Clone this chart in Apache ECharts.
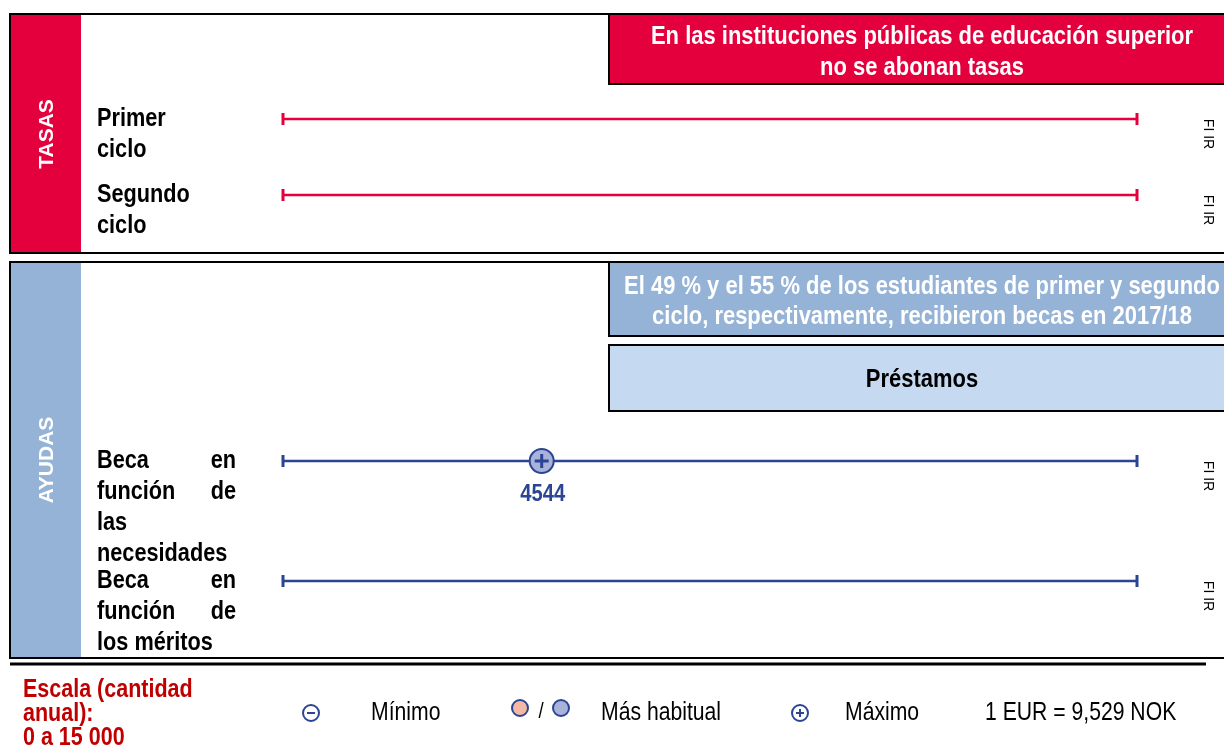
<!DOCTYPE html>
<html>
<head>
<meta charset="utf-8">
<script src="https://cdn.jsdelivr.net/npm/echarts@6/dist/echarts.min.js"></script>
<style>
html,body{margin:0;padding:0;background:#fff;}
#chart{width:1224px;height:749px;}
</style>
</head>
<body>
<div id="chart"></div>
<script>
// ---- data ----
const scaleMin = 0;
const scaleMax = 15000;
const tasasRows = ['Primer\nciclo', 'Segundo\nciclo'];
const tasasMin = [null, null];
const tasasTypical = [null, null];
const tasasMax = [null, null];
const tasasNotes = ['FI IR', 'FI IR'];
const ayudasRows = ['Beca en\nfunción de\nlas\nnecesidades', 'Beca en\nfunción de\nlos méritos'];
const ayudasMin = [null, null];
const ayudasTypical = [null, null];
const ayudasMax = [4544, null];
const ayudasNotes = ['FI IR', 'FI IR'];
const tasasNote = 'En las instituciones públicas de educación superior\nno se abonan tasas';
const becasNote = 'El 49 % y el 55 % de los estudiantes de primer y segundo\nciclo, respectivamente, recibieron becas en 2017/18';
const prestamosNote = 'Préstamos';
const scaleText = 'Escala (cantidad\nanual):\n0 a 15 000';
const legendTexts = ['Mínimo', 'Más habitual', 'Máximo', '1 EUR = 9,529 NOK'];

// ---- style ----
const RED = '#E4003D';
const BLUE = '#2B4594';
const SIDEBLUE = '#95B3D7';
const LIGHTBLUE = '#C5D9F1';
const ARIAL = '"Liberation Sans",Arial,sans-serif';
const NX = 0.835; // horizontal condensing to emulate a narrow face

const chart = echarts.init(document.getElementById('chart'), null, {renderer: 'canvas'});

function rowRenderer(color, rows, notes, justify) {
  return function (params, api) {
    const idx = api.value(0);
    const p0 = api.coord([scaleMin, idx]);
    const p1 = api.coord([scaleMax, idx]);
    const y = p0[1];
    const children = [
      {type: 'line', shape: {x1: p0[0], y1: y, x2: p1[0], y2: y}, style: {stroke: color, lineWidth: 2.5}},
      {type: 'line', shape: {x1: p0[0], y1: y - 6, x2: p0[0], y2: y + 6}, style: {stroke: color, lineWidth: 3}},
      {type: 'line', shape: {x1: p1[0], y1: y - 6, x2: p1[0], y2: y + 6}, style: {stroke: color, lineWidth: 3}},
      {type: 'text', x: p1[0] + 71, y: y + 15, rotation: -Math.PI / 2,
        style: {text: notes[idx], fill: '#000', fontSize: 14, fontFamily: ARIAL, align: 'center', verticalAlign: 'middle'}}
    ];
    const lines = rows[idx].split('\n');
    lines.forEach(function (ln, i) {
      const ly = y + i * 31;
      const words = ln.split(' ');
      const st = {fill: '#000', fontSize: 26, fontWeight: 'bold', fontFamily: ARIAL, verticalAlign: 'middle'};
      if (justify && words.length === 2 && i < lines.length - 1) {
        children.push({type: 'text', x: 97, y: ly, scaleX: NX, style: Object.assign({text: words[0], align: 'left'}, st)});
        children.push({type: 'text', x: 236, y: ly, scaleX: NX, style: Object.assign({text: words[1], align: 'right'}, st)});
      } else {
        children.push({type: 'text', x: 97, y: ly, scaleX: NX, style: Object.assign({text: ln, align: 'left'}, st)});
      }
    });
    return {type: 'group', children: children};
  };
}

function markerRenderer(kind, color, fill) {
  return function (params, api) {
    const v = api.value(0);
    const p = api.coord([v, api.value(1)]);
    const r = 12;
    const ch = [
      {type: 'circle', shape: {cx: p[0], cy: p[1], r: r}, style: {fill: fill, stroke: color, lineWidth: 2}}
    ];
    if (kind !== 'typ') {
      ch.push({type: 'line', shape: {x1: p[0] - 7, y1: p[1], x2: p[0] + 7, y2: p[1]}, style: {stroke: color, lineWidth: 3}});
    }
    if (kind === 'max') {
      ch.push({type: 'line', shape: {x1: p[0], y1: p[1] - 7, x2: p[0], y2: p[1] + 7}, style: {stroke: color, lineWidth: 3}});
    }
    ch.push({type: 'text', x: p[0] + 1, y: p[1] + 33, scaleX: 0.84,
      style: {text: String(v), fill: color, fontSize: 24, fontWeight: 'bold', fontFamily: ARIAL, align: 'center', verticalAlign: 'middle'}});
    return {type: 'group', children: ch};
  };
}

function pts(vals) {
  const out = [];
  vals.forEach(function (v, i) { if (v !== null) out.push([v, i]); });
  return out;
}

const hiddenX = function (gi) {
  return {gridIndex: gi, type: 'value', min: scaleMin, max: scaleMax, show: false};
};
const hiddenY = function (gi, rows) {
  return {gridIndex: gi, type: 'category', data: rows, inverse: true, show: false};
};

function narrowText(x, y, text, opts, sx) {
  return {type: 'text', x: x, y: y, scaleX: sx || 0.847,
    style: Object.assign({text: text, fill: '#000', fontSize: 25, fontFamily: ARIAL, align: 'left', verticalAlign: 'middle'}, opts || {})};
}

const graphic = [
  // panel frames
  {type: 'rect', shape: {x: 10, y: 14, width: 1230, height: 239}, style: {fill: '#fff', stroke: '#000', lineWidth: 2}, z: -10},
  {type: 'rect', shape: {x: 11, y: 15, width: 70, height: 237}, style: {fill: RED}, z: -9},
  {type: 'rect', shape: {x: 10, y: 262, width: 1230, height: 396}, style: {fill: '#fff', stroke: '#000', lineWidth: 2}, z: -10},
  {type: 'rect', shape: {x: 11, y: 263, width: 70, height: 394}, style: {fill: SIDEBLUE}, z: -9},
  {type: 'text', x: 47, y: 134, rotation: Math.PI / 2,
    style: {text: 'TASAS', fill: '#fff', fontSize: 21, fontWeight: 'bold', fontFamily: ARIAL, align: 'center', verticalAlign: 'middle'}},
  {type: 'text', x: 47, y: 460, rotation: Math.PI / 2,
    style: {text: 'AYUDAS', fill: '#fff', fontSize: 21, fontWeight: 'bold', fontFamily: ARIAL, align: 'center', verticalAlign: 'middle'}},
  // notes boxes
  {type: 'rect', shape: {x: 609, y: 14, width: 630, height: 70}, style: {fill: RED, stroke: '#000', lineWidth: 2}},
  narrowText(922, 52, tasasNote, {fill: '#fff', fontSize: 26, fontWeight: 'bold', align: 'center', lineHeight: 31}, 0.845),
  {type: 'rect', shape: {x: 609, y: 262, width: 630, height: 74}, style: {fill: SIDEBLUE, stroke: '#000', lineWidth: 2}},
  narrowText(922, 302, becasNote, {fill: '#fff', fontSize: 26, fontWeight: 'bold', align: 'center', lineHeight: 30}, 0.845),
  {type: 'rect', shape: {x: 609, y: 345, width: 630, height: 66}, style: {fill: LIGHTBLUE, stroke: '#000', lineWidth: 2}},
  narrowText(922, 380, prestamosNote, {fontSize: 26, fontWeight: 'bold', align: 'center'}, 0.845),
  // footer
  {type: 'line', shape: {x1: 10, y1: 664, x2: 1206, y2: 664}, style: {stroke: '#000', lineWidth: 3}},
  narrowText(23, 714, scaleText, {fill: '#C00000', fontSize: 25, fontWeight: 'bold', lineHeight: 24}, 0.86),
  // legend
  {type: 'circle', shape: {cx: 311, cy: 713, r: 8}, style: {fill: '#fff', stroke: BLUE, lineWidth: 2}},
  {type: 'line', shape: {x1: 307, y1: 713, x2: 315, y2: 713}, style: {stroke: BLUE, lineWidth: 2}},
  narrowText(371, 713, legendTexts[0]),
  {type: 'circle', shape: {cx: 520, cy: 708, r: 8}, style: {fill: '#F4B9A5', stroke: BLUE, lineWidth: 2}},
  narrowText(541, 712, '/', {align: 'center', fontSize: 22}),
  {type: 'circle', shape: {cx: 561, cy: 708, r: 8}, style: {fill: '#A9B3DA', stroke: BLUE, lineWidth: 2}},
  narrowText(601, 713, legendTexts[1]),
  {type: 'circle', shape: {cx: 800, cy: 713, r: 8}, style: {fill: '#fff', stroke: BLUE, lineWidth: 2}},
  {type: 'line', shape: {x1: 796, y1: 713, x2: 804, y2: 713}, style: {stroke: BLUE, lineWidth: 2}},
  {type: 'line', shape: {x1: 800, y1: 709, x2: 800, y2: 717}, style: {stroke: BLUE, lineWidth: 2}},
  narrowText(845, 713, legendTexts[2]),
  narrowText(985, 713, legendTexts[3])
];

const option = {
  animation: false,
  backgroundColor: '#fff',
  grid: [
    {left: 283, width: 854, top: 81, height: 152},
    {left: 283, width: 854, top: 401, height: 240}
  ],
  xAxis: [hiddenX(0), hiddenX(1)],
  yAxis: [hiddenY(0, tasasRows), hiddenY(1, ayudasRows)],
  graphic: graphic,
  series: [
    {type: 'custom', xAxisIndex: 0, yAxisIndex: 0, renderItem: rowRenderer(RED, tasasRows, tasasNotes, false),
      data: tasasRows.map(function (r, i) { return [i]; }), encode: {x: -1, y: 0}, silent: true},
    {type: 'custom', xAxisIndex: 1, yAxisIndex: 1, renderItem: rowRenderer(BLUE, ayudasRows, ayudasNotes, true),
      data: ayudasRows.map(function (r, i) { return [i]; }), encode: {x: -1, y: 0}, silent: true},
    {type: 'custom', xAxisIndex: 0, yAxisIndex: 0, renderItem: markerRenderer('min', RED, '#fff'), data: pts(tasasMin), z: 5},
    {type: 'custom', xAxisIndex: 0, yAxisIndex: 0, renderItem: markerRenderer('typ', RED, '#F4B9A5'), data: pts(tasasTypical), z: 5},
    {type: 'custom', xAxisIndex: 0, yAxisIndex: 0, renderItem: markerRenderer('max', RED, '#fff'), data: pts(tasasMax), z: 5},
    {type: 'custom', xAxisIndex: 1, yAxisIndex: 1, renderItem: markerRenderer('min', BLUE, '#fff'), data: pts(ayudasMin), z: 5},
    {type: 'custom', xAxisIndex: 1, yAxisIndex: 1, renderItem: markerRenderer('typ', BLUE, '#A9B3DA'), data: pts(ayudasTypical), z: 5},
    {type: 'custom', xAxisIndex: 1, yAxisIndex: 1, renderItem: markerRenderer('max', BLUE, '#A9B3DA'), data: pts(ayudasMax), z: 5}
  ]
};
chart.setOption(option);
</script>
</body>
</html>
